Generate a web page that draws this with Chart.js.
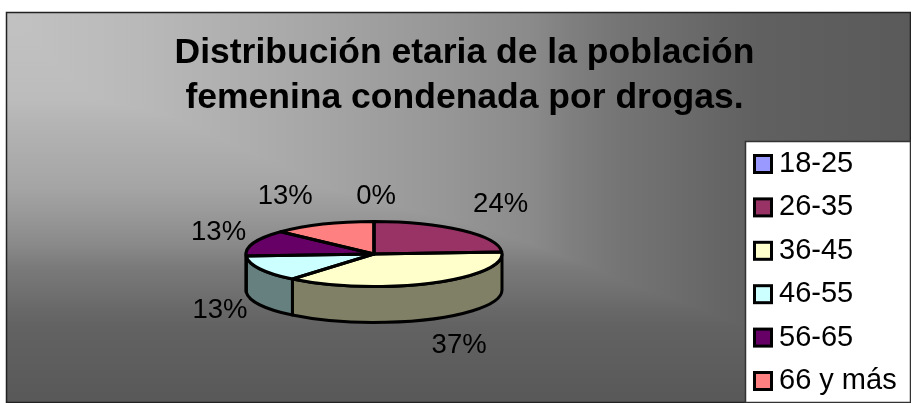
<!DOCTYPE html>
<html>
<head>
<meta charset="utf-8">
<title>Distribución etaria</title>
<script src="https://cdn.jsdelivr.net/npm/chart.js@4"></script>
<style>
  html, body { margin: 0; padding: 0; background: #ffffff; }
  canvas { display: block; }
</style>
</head>
<body>
<canvas id="edadChart" width="911" height="403"></canvas>
<script>
const titleLines = ["Distribución etaria de la población", "femenina condenada por drogas."];
const categories = ["18-25", "26-35", "36-45", "46-55", "56-65", "66 y más"];
const percentages = [0, 24, 37, 13, 13, 13];
const topColors = ["#9999ff", "#993366", "#ffffcc", "#ccffff", "#660066", "#ff8080"];
const sideColors = ["#4d4d80", "#4d1a33", "#808066", "#668080", "#330033", "#804040"];

// label shift from the rim of each slice
const labelNudges = [[2, -25], [39, -26], [27, 62], [-40, 42], [-35, -11], [-38, -28]];

const FONT = '"Liberation Sans", Arial, sans-serif';
const SQUASH = 0.254;   // tilt of the pie
const DEPTH = 36;       // height of the side wall
const RADIUS = 128;
const OUTLINE = 3;

/* ================= PANEL, LEGEND AND TILTED PIE ================= */
function ramp(ctx, x0, y0, x1, y1, start, span, stops) {
    const grad = ctx.createLinearGradient(x0, y0, x1, y1);
    stops.forEach(function (s) { grad.addColorStop((s[0] - start) / span, s[1]); });
    return grad;
}

const panelPlugin = {
    id: "panel",
    afterLayout(chart) {
        // the pie sits left of the legend column, the title stays centred on the panel
        chart.chartArea = { left: 18, top: 126, right: 730, bottom: 382, width: 712, height: 256 };
    },
    beforeDraw(chart) {
        const ctx = chart.ctx;
        // corner gradient: one ramp across, one ramp down, darkest of the two wins
        const across = ramp(ctx, 6, 0, 911, 0, 6, 905, [
            [6, "#c2c2c2"], [150, "#b8b8b8"], [300, "#a8a8a8"], [450, "#969696"],
            [533, "#8a8a8a"], [567, "#808080"], [617, "#757575"], [667, "#6e6e6e"],
            [717, "#666666"], [760, "#606060"], [911, "#5a5a5a"]
        ]);
        const down = ramp(ctx, 0, 12, 0, 403, 12, 391, [
            [12, "#c2c2c2"], [100, "#bcbcbc"], [120, "#b5b5b5"], [187, "#a5a5a5"],
            [220, "#969696"], [247, "#888888"], [267, "#7a7a7a"], [292, "#707070"],
            [310, "#686868"], [327, "#626262"], [360, "#5e5e5e"], [403, "#585858"]
        ]);
        ctx.save();
        ctx.fillStyle = across;
        ctx.fillRect(6, 12, 905, 391);
        ctx.globalCompositeOperation = "darken";
        ctx.fillStyle = down;
        ctx.fillRect(6, 12, 905, 391);
        ctx.globalCompositeOperation = "source-over";
        ctx.strokeStyle = "#222222";
        ctx.lineWidth = 1.5;
        ctx.strokeRect(6.5, 12.5, 904, 390);
        ctx.restore();
    },
    beforeDatasetsDraw(chart) {
        const ctx = chart.ctx;
        const arcs = chart.getDatasetMeta(0).data;
        ctx.save();
        ctx.lineWidth = OUTLINE;
        ctx.strokeStyle = "#000000";
        ctx.lineJoin = "round";
        arcs.forEach(function (arc, i) {
            // only the part of a slice facing the viewer shows a wall
            const from = Math.max(arc.startAngle, 0);
            const to = Math.min(arc.endAngle, Math.PI);
            if (to <= from) return;
            const ry = arc.outerRadius * SQUASH;
            ctx.beginPath();
            ctx.ellipse(arc.x, arc.y, arc.outerRadius, ry, 0, from, to);
            ctx.ellipse(arc.x, arc.y + DEPTH, arc.outerRadius, ry, 0, to, from, true);
            ctx.closePath();
            ctx.fillStyle = sideColors[i];
            ctx.fill();
            ctx.stroke();
        });
        ctx.restore();

        // the arcs themselves are drawn by the library, flattened
        const first = arcs[0];
        ctx.save();
        ctx.translate(0, first.y);
        ctx.scale(1, SQUASH);
        ctx.translate(0, -first.y);
    },
    afterDatasetsDraw(chart) {
        const ctx = chart.ctx;
        ctx.restore();
        const arcs = chart.getDatasetMeta(0).data;

        ctx.save();
        ctx.lineWidth = OUTLINE;
        ctx.strokeStyle = "#000000";
        ctx.lineJoin = "round";
        arcs.forEach(function (arc) {
            const ry = arc.outerRadius * SQUASH;
            ctx.beginPath();
            ctx.moveTo(arc.x, arc.y);
            ctx.ellipse(arc.x, arc.y, arc.outerRadius, ry, 0, arc.startAngle, arc.endAngle);
            ctx.closePath();
            ctx.stroke();
        });

        // percentage labels
        ctx.fillStyle = "#000000";
        ctx.font = "27.5px " + FONT;
        ctx.textAlign = "center";
        ctx.textBaseline = "middle";
        arcs.forEach(function (arc, i) {
            const mid = (arc.startAngle + arc.endAngle) / 2;
            const x = arc.x + arc.outerRadius * Math.cos(mid) + labelNudges[i][0];
            const y = arc.y + arc.outerRadius * SQUASH * Math.sin(mid) + labelNudges[i][1];
            ctx.fillText(percentages[i] + "%", x, y);
        });
        ctx.restore();
    },
    afterDraw(chart) {
        const ctx = chart.ctx;
        ctx.save();
        ctx.fillStyle = "#ffffff";
        ctx.fillRect(745, 141, 166, 262);
        ctx.strokeStyle = "#333333";
        ctx.lineWidth = 1.5;
        ctx.strokeRect(745.5, 141.5, 165, 261);

        // legend rows
        ctx.font = "29px " + FONT;
        ctx.textBaseline = "middle";
        categories.forEach(function (name, i) {
            const y = 164 + i * 43.4;
            ctx.fillStyle = topColors[i];
            ctx.fillRect(754.5, y - 8.5, 17, 17);
            ctx.strokeStyle = "#000000";
            ctx.lineWidth = OUTLINE;
            ctx.strokeRect(754.5, y - 8.5, 17, 17);
            ctx.fillStyle = "#000000";
            ctx.fillText(name, 779, y);
        });
        ctx.restore();
    }
};

new Chart(document.getElementById("edadChart"), {
    type: "pie",
    data: {
        labels: categories,
        datasets: [{
            data: percentages,
            backgroundColor: topColors,
            borderWidth: 0,
            radius: RADIUS
        }]
    },
    options: {
        responsive: false,
        animation: false,
        layout: { padding: { left: 18 } },
        plugins: {
            legend: { display: false },
            tooltip: { enabled: false },
            title: {
                display: true,
                text: titleLines,
                color: "#000000",
                font: { family: FONT, size: 35.5, weight: "bold", lineHeight: 1.27 },
                padding: { top: 31, bottom: 0 }
            }
        }
    },
    plugins: [panelPlugin]
});
</script>
</body>
</html>
